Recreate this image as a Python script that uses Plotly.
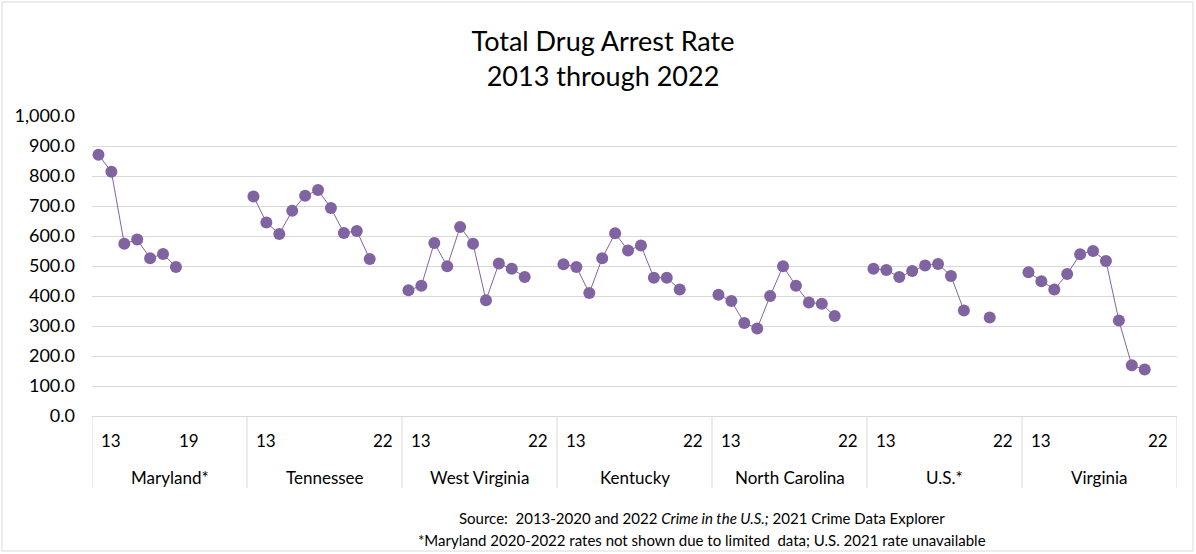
import plotly.graph_objects as go

states = ["Maryland*", "Tennessee", "West Virginia", "Kentucky", "North Carolina", "U.S.*", "Virginia"]
years = [2013, 2014, 2015, 2016, 2017, 2018, 2019, 2020, 2021, 2022]

maryland = [871, 814, 574, 588, 526, 540, 497, None, None, None]
tennessee = [732, 645, 607, 684, 734, 753, 693, 610, 617, 523]
west_virginia = [419, 434, 577, 499, 630, 574, 386, 508, 491, 463]
kentucky = [506, 497, 410, 526, 609, 552, 568, 461, 461, 422]
north_carolina = [404, 383, 310, 292, 400, 499, 434, 378, 374, 333]
us = [491, 487, 463, 483, 502, 507, 467, 352, None, 328]
virginia = [479, 449, 422, 473, 539, 550, 517, 318, 169, 155]

series = [maryland, tennessee, west_virginia, kentucky, north_carolina, us, virginia]
first_labels = ["13"] * 7
last_labels = ["19", "22", "22", "22", "22", "22", "22"]

y_ticks = [0, 100, 200, 300, 400, 500, 600, 700, 800, 900, 1000]

SLOTS = 12
COLOR = "#8064A2"
FONT = "Lato"

fig = go.Figure()
for gi, (name, vals) in enumerate(zip(states, series)):
    xs = [gi * SLOTS + i for i in range(len(years))]
    fig.add_trace(go.Scatter(
        x=xs, y=vals, mode="lines+markers", name=name,
        line=dict(color=COLOR, width=1),
        marker=dict(color=COLOR, size=12),
        connectgaps=False, showlegend=False, cliponaxis=False,
    ))

shapes = []
annotations = []
plot_h = 300.0
sep_bottom = -72 / plot_h
for gi in range(len(states) + 1):
    xb = gi * SLOTS - 0.5
    shapes.append(dict(type="line", xref="x", yref="paper", x0=xb, x1=xb,
                       y0=0, y1=sep_bottom, line=dict(color="#D9D9D9", width=1)))
for gi, name in enumerate(states):
    base = gi * SLOTS
    last_idx = 7 if gi == 0 else 10
    for xi, txt in ((base + 1, first_labels[gi]), (base + last_idx, last_labels[gi])):
        annotations.append(dict(x=xi, y=0, xref="x", yref="paper", text=txt,
                                showarrow=False, yanchor="middle", yshift=-24,
                                font=dict(size=17, color="#000", family=FONT)))
    annotations.append(dict(x=base + (SLOTS - 1) / 2, y=0, xref="x", yref="paper", text=name,
                            showarrow=False, yanchor="middle", yshift=-61,
                            font=dict(size=17, color="#000", family=FONT)))

# footnotes
annotations.append(dict(x=(702 - 92) / 1085, y=0, xref="paper", yref="paper",
                        text="Source:  2013-2020 and 2022 <i>Crime in the U.S.;</i> 2021 Crime Data Explorer",
                        showarrow=False, yanchor="middle", yshift=-102,
                        font=dict(size=15, color="#000", family=FONT)))
annotations.append(dict(x=(702 - 92) / 1085, y=0, xref="paper", yref="paper",
                        text="*Maryland 2020-2022 rates not shown due to limited  data; U.S. 2021 rate unavailable",
                        showarrow=False, yanchor="middle", yshift=-124,
                        font=dict(size=15, color="#000", family=FONT)))

# outer chart border
shapes.append(dict(type="rect", xref="paper", yref="paper",
                   x0=(2 - 92) / 1085, x1=(1193 - 92) / 1085,
                   y0=-(551 - 416) / plot_h, y1=(416 - 2) / plot_h,
                   line=dict(color="#D9D9D9", width=1)))

fig.update_layout(
    width=1196, height=554,
    margin=dict(l=92, r=19, t=116, b=138),
    paper_bgcolor="white", plot_bgcolor="white",
    title=dict(text="Total Drug Arrest Rate<br>2013 through 2022", x=603 / 1196, xanchor="center",
               y=1 - 51 / 554, yanchor="middle",
               font=dict(size=27, color="#000", family=FONT)),
    xaxis=dict(range=[-0.5, len(states) * SLOTS - 0.5], showgrid=False, zeroline=False,
               showticklabels=False, ticks="", showline=False, fixedrange=True),
    yaxis=dict(range=[0, 1000], tickvals=y_ticks, tickformat=",.1f",
               showgrid=True, gridcolor="#D9D9D9", gridwidth=1, zeroline=True,
               zerolinecolor="#D9D9D9", zerolinewidth=1, showline=False, ticks="",
               ticklabelstandoff=16,
               tickfont=dict(size=18, color="#000", family=FONT)),
    shapes=shapes, annotations=annotations,
)

fig.write_html("out.html")
